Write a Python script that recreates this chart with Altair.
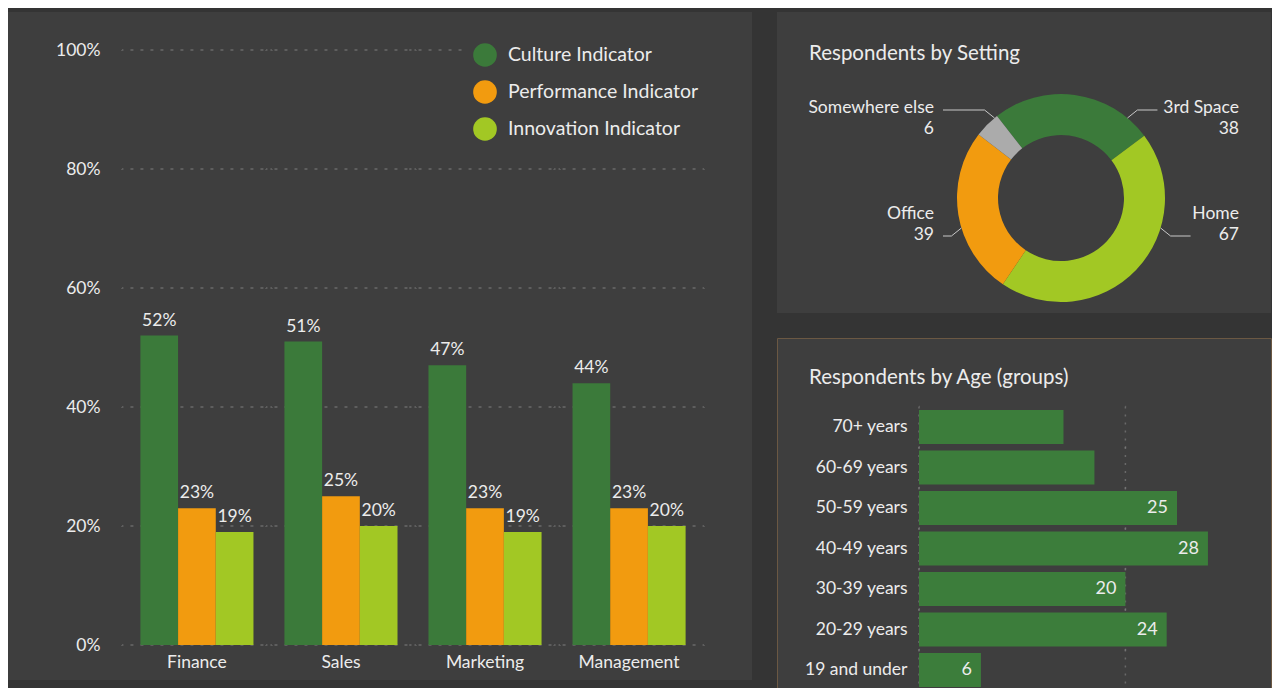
import math
import altair as alt
import pandas as pd

# ---------------- data ----------------
departments = ["Finance", "Sales", "Marketing", "Management"]
indicators = ["Culture Indicator", "Performance Indicator", "Innovation Indicator"]
culture_values = [0.52, 0.51, 0.47, 0.44]
performance_values = [0.23, 0.25, 0.23, 0.23]
innovation_values = [0.19, 0.20, 0.19, 0.20]
percent_ticks = [0.0, 0.2, 0.4, 0.6, 0.8, 1.0]

settings = ["3rd Space", "Home", "Office", "Somewhere else"]
setting_counts = [38, 67, 39, 6]

age_groups = ["70+ years", "60-69 years", "50-59 years", "40-49 years",
              "30-39 years", "20-29 years", "19 and under"]
age_counts = [14, 17, 25, 28, 20, 24, 6]
age_value_shown = [False, False, True, True, True, True, True]
age_grid_values = [0, 20]

# ---------------- style ----------------
FONT = "Lato"
BG = "#343434"
PANEL = "#3e3e3e"
TEXT = "#ececec"
GRID = "#7c7c7c"
GREEN = "#3b7a3a"
ORANGE = "#f29b0f"
LIME = "#a2c824"
GREY = "#ababab"
AGE_GREEN = "#3c7d3b"
LEADER = "#c8c8c8"

LEFT_W, LEFT_H = 744, 668
RIGHT_W = 494
DONUT_H = 301
AGE_H = 358

# ================= left: grouped bars =================
bar_rows = []
for ind, vals in zip(indicators, [culture_values, performance_values, innovation_values]):
    for d, v in zip(departments, vals):
        bar_rows.append({"department": d, "indicator": ind, "value": v})
bars_df = pd.DataFrame(bar_rows)
grid_df = pd.DataFrame([{"department": d, "value": t} for t in percent_ticks for d in departments])

PX_PER_UNIT = 595.0
ZERO_FROM_BOTTOM = 35.0
y_scale = alt.Scale(domain=[-ZERO_FROM_BOTTOM / PX_PER_UNIT, (LEFT_H - ZERO_FROM_BOTTOM) / PX_PER_UNIT], nice=False)
x_scale = alt.Scale(domain=departments, paddingInner=0.215, paddingOuter=0.69, align=0.666)

x_axis = alt.Axis(orient="bottom", offset=-ZERO_FROM_BOTTOM, ticks=False, tickSize=0, domain=False, grid=False,
                  labelPadding=8, labelFontSize=17.5, labelColor=TEXT, labelFont=FONT, labelAngle=0, title=None)
y_axis = alt.Axis(orient="left", values=percent_ticks, format=".0%", offset=-92, domain=False, ticks=False,
                  tickSize=0, grid=False, labelPadding=0, labelFontSize=17.5, labelColor=TEXT, labelFont=FONT,
                  labelFlush=False, title=None)

x_enc = alt.X("department:N", sort=departments, scale=x_scale, axis=x_axis)
y_enc = alt.Y("value:Q", scale=y_scale, axis=y_axis)
xoff_enc = alt.XOffset("indicator:N", sort=indicators, scale=alt.Scale(paddingInner=0, paddingOuter=0))

left_grid = alt.Chart(grid_df).mark_tick(
    size=150, thickness=0.01, filled=False, color=GRID, strokeWidth=1.5, strokeDash=[1.5, 8.5]
).encode(x=x_enc, y=y_enc)

left_bars = alt.Chart(bars_df).mark_bar().encode(
    x=x_enc, xOffset=xoff_enc, y=y_enc,
    color=alt.Color("indicator:N", sort=indicators,
                    scale=alt.Scale(domain=indicators, range=[GREEN, ORANGE, LIME]),
                    legend=alt.Legend(orient="none", legendX=455, legendY=21, padding=10, fillColor=PANEL,
                                      title=None, symbolType="circle", symbolSize=560, symbolStrokeWidth=0,
                                      symbolOpacity=1, labelFontSize=19.5, labelColor=TEXT, labelFont=FONT,
                                      labelLimit=300, rowPadding=13, labelOffset=11)),
)

left_labels = alt.Chart(bars_df).mark_text(
    baseline="bottom", dy=-6, fontSize=17.5, color=TEXT, font=FONT
).encode(x=x_enc, xOffset=xoff_enc, y=y_enc, text=alt.Text("value:Q", format=".0%"))

left = alt.layer(left_grid, left_bars, left_labels).properties(
    width=LEFT_W, height=LEFT_H, view=alt.ViewBackground(fill=PANEL, strokeWidth=0)
)

# ================= top right: donut =================
R_OUT, R_IN = 104, 63
CX_PX, CY_PX = 284, 186          # donut centre inside its panel
START = math.radians(-38.0)      # where the first slice begins
total = float(sum(setting_counts))

arc_rows, leader_rows, label_rows = [], [], []
cum = 0.0
for i, (s, c) in enumerate(zip(settings, setting_counts)):
    a0 = START + 2 * math.pi * cum / total
    cum += c
    a1 = START + 2 * math.pi * cum / total
    mid = (a0 + a1) / 2
    side = 1 if math.sin(mid) >= 0 else -1
    top = math.cos(mid) > 0
    arc_rows.append({"setting": s, "count": c, "idx": i, "cx": 0.0, "cy": 0.0})
    # leader line (screen coordinates, y downwards, relative to centre)
    line_y = -88.0 if top else 38.0
    start_y = line_y + (8.0 if top else -8.0)
    start_x = side * math.sqrt(R_OUT ** 2 - start_y ** 2)
    bend_x = start_x + side * 10.0
    end_x = start_x + 30.0 if side > 0 else -(R_OUT + 14.0)
    for j, (px, py) in enumerate([(start_x, start_y), (bend_x, line_y), (end_x, line_y)]):
        leader_rows.append({"setting": s, "pt": j, "lx": px, "ly": -py})
    label_x = (R_OUT + 74.0) if side > 0 else -(R_OUT + 23.0)
    value_y = -69.0 if top else 37.0
    label_rows.append({"setting": s, "count": str(c), "lx": label_x,
                       "vy": -value_y, "ny": -(value_y - 21.0)})

arc_df = pd.DataFrame(arc_rows)
leader_df = pd.DataFrame(leader_rows)
label_df = pd.DataFrame(label_rows)

dx_scale = alt.Scale(domain=[-CX_PX, RIGHT_W - CX_PX], nice=False, zero=False)
dy_scale = alt.Scale(domain=[-(DONUT_H - CY_PX), CY_PX], nice=False, zero=False)

donut = alt.Chart(arc_df).mark_arc(radius=R_OUT, radius2=R_IN).encode(
    theta=alt.Theta("count:Q", stack=True, scale=alt.Scale(range=[START, START + 2 * math.pi])),
    order=alt.Order("idx:Q"),
    color=alt.Color("setting:N", scale=alt.Scale(domain=settings, range=[GREEN, LIME, ORANGE, GREY]),
                    legend=None),
    x=alt.X("cx:Q", scale=dx_scale, axis=None),
    y=alt.Y("cy:Q", scale=dy_scale, axis=None),
)
leaders = alt.Chart(leader_df).mark_line(color=LEADER, strokeWidth=1).encode(
    x=alt.X("lx:Q", scale=dx_scale, axis=None),
    y=alt.Y("ly:Q", scale=dy_scale, axis=None),
    detail="setting:N", order="pt:Q",
)
name_text = alt.Chart(label_df).mark_text(align="right", baseline="middle", fontSize=17.5,
                                           color=TEXT, font=FONT).encode(
    x=alt.X("lx:Q", scale=dx_scale, axis=None),
    y=alt.Y("ny:Q", scale=dy_scale, axis=None),
    text="setting:N",
)
value_text = alt.Chart(label_df).mark_text(align="right", baseline="middle", fontSize=17.5,
                                            color=TEXT, font=FONT).encode(
    x=alt.X("lx:Q", scale=dx_scale, axis=None),
    y=alt.Y("vy:Q", scale=dy_scale, axis=None),
    text="count:N",
)
donut_panel = alt.layer(donut, leaders, name_text, value_text).properties(
    width=RIGHT_W, height=DONUT_H, view=alt.ViewBackground(fill=PANEL, strokeWidth=0),
    title=alt.TitleParams("Respondents by Setting", anchor="start", frame="group", offset=-68, dx=32,
                          baseline="alphabetic", fontSize=20.5, fontWeight="normal", color=TEXT, font=FONT),
)

# ================= bottom right: age bars =================
age_df = pd.DataFrame({"age": age_groups, "count": age_counts, "shown": age_value_shown})
age_grid_df = pd.DataFrame([{"age": a, "count": g} for g in age_grid_values for a in age_groups])

AGE_ZERO_PX = 142.0
AGE_PX_PER = 10.32
ax_scale = alt.Scale(domain=[-AGE_ZERO_PX / AGE_PX_PER, (RIGHT_W - AGE_ZERO_PX) / AGE_PX_PER], nice=False)
ay_scale = alt.Scale(domain=age_groups, paddingInner=0.16, paddingOuter=1.0, align=0.889)
ay_axis = alt.Axis(orient="left", offset=-130, domain=False, ticks=False, tickSize=0, grid=False,
                   labelPadding=0, labelFontSize=17.5, labelColor=TEXT, labelFont=FONT, title=None)
ax_enc = alt.X("count:Q", scale=ax_scale, axis=None)
ay_enc = alt.Y("age:N", sort=age_groups, scale=ay_scale, axis=ay_axis)

age_grid = alt.Chart(age_grid_df).mark_tick(
    size=41, thickness=0.01, filled=False, color=GRID, strokeWidth=1.5, strokeDash=[1.5, 6.5]
).encode(x=ax_enc, y=ay_enc)
age_bars = alt.Chart(age_df).mark_bar(color=AGE_GREEN).encode(x=ax_enc, y=ay_enc)
age_text = alt.Chart(age_df).transform_filter("datum.shown").mark_text(
    align="right", baseline="middle", dx=-9, fontSize=18, color=TEXT, font=FONT
).encode(x=ax_enc, y=ay_enc, text="count:Q")

age_panel = alt.layer(age_grid, age_bars, age_text).properties(
    width=RIGHT_W, height=AGE_H,
    view=alt.ViewBackground(fill=PANEL, stroke="#6b5843", strokeWidth=1),
    title=alt.TitleParams("Respondents by Age (groups)", anchor="start", frame="group", offset=-66, dx=32,
                          baseline="alphabetic", fontSize=20.5, fontWeight="normal", color=TEXT, font=FONT),
)

right = alt.vconcat(donut_panel, age_panel, spacing=24).resolve_scale(color="independent")

chart = alt.hconcat(left, right, spacing=24).resolve_scale(color="independent").properties(
    background=BG, padding={"left": 0, "top": 4, "right": 0, "bottom": 0}
).configure(font=FONT).configure_view(stroke="transparent")

chart.save("out.html", embed_options={"renderer": "svg", "actions": False})
